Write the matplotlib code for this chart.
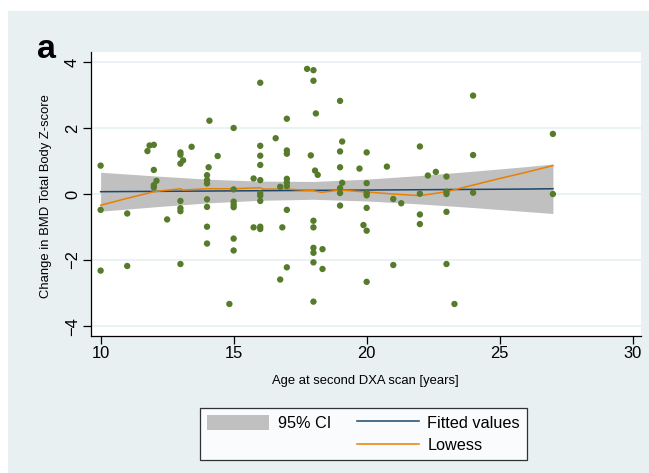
import matplotlib
matplotlib.use('Agg')
import matplotlib.pyplot as plt
from matplotlib.patches import Patch, Rectangle
from matplotlib.lines import Line2D

plt.rcParams['font.family'] = ['Liberation Sans', 'DejaVu Sans']

# age at second scan vs change in Z-score
age = [10, 10, 10, 11, 11, 11.76, 11.84, 12, 12, 12.1, 12, 12, 12.5,
       13, 13, 13.1, 13, 13, 13, 13, 13, 13.42,
       14.09, 14.06, 14, 14, 14, 14, 14, 14, 14, 14.4, 14.84,
       15, 15, 15, 15, 15, 15, 15, 15.75, 15.75,
       16, 16, 16, 16, 16, 16, 16, 16, 16, 16,
       16.58, 16.75, 16.75, 16.83,
       17, 17, 17, 17, 17, 17, 17, 17,
       17.76, 17.9, 18, 18, 18.09, 18.06, 18.16, 18, 18, 18, 18, 18, 18,
       18.34, 18.34,
       19, 19.08, 19, 19, 19.08, 19, 19, 19, 19.73, 19.88,
       20, 20, 20, 20, 20, 20, 20, 20.76, 21, 21, 21.3,
       22, 22, 22, 22, 22.3, 22.6,
       23, 23, 23, 23, 23, 23.3, 24, 24, 24, 27, 27]
dz = [0.86, -0.48, -2.32, -0.59, -2.18, 1.30, 1.47, 1.49, 0.73, 0.40, 0.27, 0.20, -0.77,
      1.26, 1.19, 1.02, 0.92, -0.21, -0.43, -0.52, -2.12, 1.43,
      2.22, 0.81, 0.57, 0.42, 0.32, -0.16, -0.39, -0.99, -1.50, 1.15, -3.33,
      2.00, 0.14, -0.23, -0.32, -0.40, -1.35, -1.71, 0.47, -1.01,
      3.37, 1.46, 1.16, 0.88, 0.42, 0.02, -0.05, -0.21, -0.99, -1.06,
      1.69, 0.22, -2.59, -1.01,
      2.28, 1.32, 1.22, 0.46, 0.35, 0.24, -0.48, -2.22,
      3.79, 1.17, 3.75, 3.43, 2.44, 0.71, 0.58, -0.81, -1.01, -1.63, -1.78, -2.07, -3.26,
      -1.67, -2.27,
      2.82, 1.59, 1.29, 0.81, 0.34, 0.18, 0.03, -0.35, 0.77, -0.94,
      1.26, 0.33, 0.03, -0.04, -0.42, -1.11, -2.66, 0.83, -0.15, -2.15, -0.28,
      1.44, 0.01, -0.62, -0.91, 0.56, 0.67,
      0.53, 0.07, 0.00, -0.54, -2.12, -3.33, 2.98, 1.18, 0.04, 1.82, 0.00]

# linear fit and its 95% CI band
fit_x = [10, 12, 14, 16, 18, 20, 22, 24, 26, 27]
fit_y = [0.07, 0.08, 0.09, 0.10, 0.11, 0.12, 0.13, 0.14, 0.15, 0.16]
ci_hi = [0.66, 0.55, 0.45, 0.39, 0.38, 0.45, 0.56, 0.69, 0.83, 0.91]
ci_lo = [-0.52, -0.39, -0.27, -0.19, -0.16, -0.21, -0.30, -0.41, -0.53, -0.59]

# lowess smoother
low_x = [10, 11, 12, 13, 13.1, 14, 15, 16, 16.1, 17, 18, 18.3, 19, 20, 21, 22, 23, 24, 25, 26, 27]
low_y = [-0.34, -0.13, 0.07, 0.16, 0.12, 0.16, 0.16, 0.19, 0.15, 0.15, 0.10, 0.05, 0.12,
         0.06, 0.0, -0.05, 0.07, 0.27, 0.47, 0.66, 0.86]

bg = '#e8f0f2'
W, H = 649, 473
fig = plt.figure(figsize=(W / 100, H / 100), dpi=100)
fig.patch.set_facecolor('white')
fig.add_artist(Rectangle((8 / W, 0), 1 - 8 / W, 1 - 11 / H, transform=fig.transFigure,
                         facecolor=bg, edgecolor='none', zorder=-10))

ax = fig.add_axes([90.5 / W, 1 - 336 / H, (640.7 - 90.5) / W, (336 - 51.7) / H])
ax.set_facecolor('white')

ax.fill_between(fit_x, ci_lo, ci_hi, color='#c0c0c0', lw=0, zorder=1)
ax.plot(fit_x, fit_y, color='#1a476f', lw=1.1, zorder=2)
ax.plot(low_x, low_y, color='#e88000', lw=1.1, zorder=3)
ax.scatter(age, dz, s=21, color='#557b2b', edgecolors='none', zorder=4)

ax.set_xlim(9.62, 30.3)
ax.set_ylim(-4.30, 4.31)
ax.set_xticks([10, 15, 20, 25, 30])
ax.set_yticks([-4, -2, 0, 2, 4])
ax.yaxis.grid(True, color=bg, lw=1.2)
ax.set_axisbelow(True)
for s in ['top', 'right']:
    ax.spines[s].set_visible(False)
for s in ['left', 'bottom']:
    ax.spines[s].set_linewidth(0.9)
ax.tick_params(axis='both', labelsize=11.9, width=0.9, length=6, color='black')
ax.tick_params(axis='y', pad=1.5)
ax.tick_params(axis='x', pad=1.5)
plt.setp(ax.get_yticklabels(), rotation=90, va='center')

fig.text(365.5 / W, 1 - 381 / H, 'Age at second DXA scan [years]', fontsize=9.4,
         ha='center', va='center')
fig.text(46 / W, 1 - 196 / H, 'Change in BMD Total Body Z-score', fontsize=9.4,
         rotation=90, ha='center', va='center')
fig.text(46 / W, 1 - 49 / H, 'a', fontsize=24.5, fontweight='bold', ha='center', va='center')

handles = [Patch(facecolor='#c0c0c0', edgecolor='none'),
           Patch(facecolor='none', edgecolor='none'),
           Line2D([], [], color='#1a476f', lw=1.1),
           Line2D([], [], color='#e88000', lw=1.1)]
labels = ['95% CI', '', 'Fitted values', 'Lowess']
leg = fig.legend(handles, labels, ncol=2, loc='upper left',
                 bbox_to_anchor=(200 / W, 1 - 407.7 / H), bbox_transform=fig.transFigure,
                 fontsize=11.7, frameon=True, fancybox=False, edgecolor='black',
                 handlelength=3.8, handleheight=1.05, handletextpad=0.55,
                 columnspacing=1.6, borderpad=0.42, labelspacing=0.4, borderaxespad=0)
leg.get_frame().set_linewidth(0.9)

fig.savefig('out.png', dpi=100)
